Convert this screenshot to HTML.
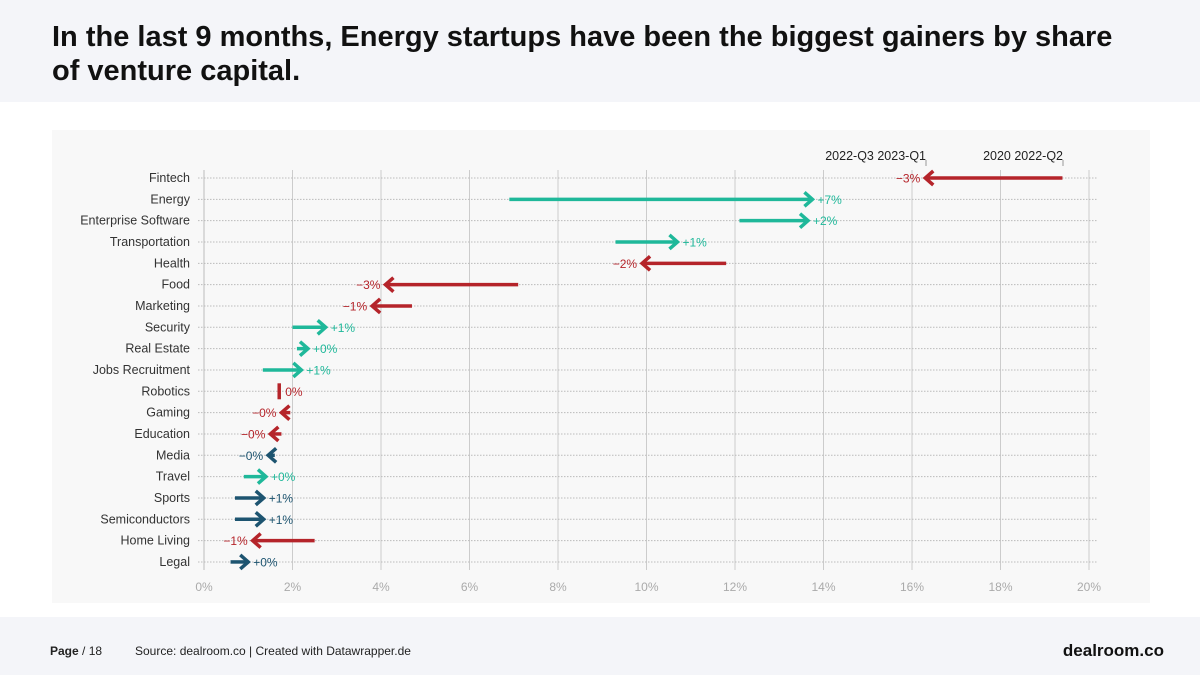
<!DOCTYPE html>
<html><head><meta charset="utf-8"><style>
body{margin:0;width:1200px;height:675px;background:#fff;font-family:"Liberation Sans",sans-serif;overflow:hidden;position:relative}
#hdr{position:absolute;left:0;top:0;width:1200px;height:102px;background:#f4f5f9}
#hdr h1{position:absolute;left:52px;top:20px;margin:0;font-size:29px;line-height:34px;font-weight:bold;color:#111;width:1140px;white-space:nowrap}
#panel{position:absolute;left:52px;top:130px;width:1098px;height:473px;background:#f8f8f8}
#ftr{position:absolute;left:0;top:617px;width:1200px;height:58px;background:#f4f5f9;font-size:12px;color:#222}
</style></head><body>
<div id="hdr"><h1>In the last 9 months, Energy startups have been the biggest gainers by share<br>of venture capital.</h1></div>
<div id="panel"></div>
<svg id="chart" width="1200" height="675" style="position:absolute;left:0;top:0" font-family="Liberation Sans, sans-serif"></svg>
<div id="ftr">
<span style="position:absolute;left:50px;top:27px"><b>Page</b> / 18</span>
<span style="position:absolute;left:135px;top:27px">Source: dealroom.co | Created with Datawrapper.de</span>
<span style="position:absolute;right:36px;top:24px;font-size:17px;font-weight:bold;color:#111">dealroom.co</span>
</div>
<script>
const categories=["Fintech","Energy","Enterprise Software","Transportation","Health","Food","Marketing","Security","Real Estate","Jobs Recruitment","Robotics","Gaming","Education","Media","Travel","Sports","Semiconductors","Home Living","Legal"];
const startValues=[19.4,6.9,12.1,9.3,11.8,7.1,4.7,2.0,2.1,1.33,1.7,1.95,1.75,1.6,0.9,0.7,0.7,2.5,0.6];
const endValues=[16.3,13.75,13.65,10.7,9.9,4.1,3.8,2.75,2.35,2.2,1.7,1.75,1.5,1.45,1.4,1.35,1.35,1.1,1.0];
const changeLabels=["−3%","+7%","+2%","+1%","−2%","−3%","−1%","+1%","+0%","+1%","0%","−0%","−0%","−0%","+0%","+1%","+1%","−1%","+0%"];
const darkRows=["Media","Sports","Semiconductors","Legal"];
const ticks=[0,2,4,6,8,10,12,14,16,18,20];
const ns="http://www.w3.org/2000/svg",svg=document.getElementById('chart');
const x=v=>204+v*44.25, y=i=>178+i*21.33;
function el(t,a,p){const e=document.createElementNS(ns,t);for(const k in a)e.setAttribute(k,a[k]);(p||svg).appendChild(e);return e;}
ticks.forEach(t=>{
 const g=el('line',{x1:x(t),x2:x(t),y1:170,y2:570,stroke:t?'#ccc':'#bbb','stroke-width':1});
 
 const l=el('text',{x:x(t),y:591,'text-anchor':'middle','font-size':12,fill:'#aaa'});l.textContent=t+'%';
 
});
categories.forEach((c,i)=>{
 const yy=y(i);
 const d=el('line',{x1:198,x2:1097,y1:yy,y2:yy,stroke:'#bbb','stroke-dasharray':'1.5,1.5'});
 
 const t=el('text',{x:190,y:yy+4,'text-anchor':'end','font-size':12.5,fill:'#333'});t.textContent=c;
 
 const s=startValues[i],e=endValues[i],up=e>s,flat=Math.abs(e-s)<0.05;
 const col=up?(darkRows.includes(c)?'#1d5470':'#1fb89a'):(darkRows.includes(c)?'#1d5470':'#b5242a');
 const g=el('g',{});
 if(flat){el('line',{x1:x(e),x2:x(e),y1:yy-8,y2:yy+8,stroke:col,'stroke-width':3.5},g);}
 else{
  el('line',{x1:x(s),x2:x(e)+(up?-2:2),y1:yy,y2:yy,stroke:col,'stroke-width':3.5},g);
  const dir=up?1:-1,ex=x(e);
  el('polyline',{points:`${ex-dir*8},${yy-7} ${ex},${yy} ${ex-dir*8},${yy+7}`,fill:'none',stroke:col,'stroke-width':3.5},g);
 }
 const lx=flat?x(e)+6:(up?x(e)+5:x(e)-5);
 const lb=el('text',{x:lx,y:yy+4.5,'text-anchor':(up||flat)?'start':'end','font-size':12,fill:col},g);lb.textContent=changeLabels[i];
});
[[926,"2022-Q3 2023-Q1"],[1063,"2020 2022-Q2"]].forEach(([px,s])=>{
 el('line',{x1:px,x2:px,y1:160,y2:166,stroke:'#999'});
 const t=el('text',{x:px,y:160,'text-anchor':'end','font-size':12.5,fill:'#222'});t.textContent=s;
 
});
</script>
</body></html>
